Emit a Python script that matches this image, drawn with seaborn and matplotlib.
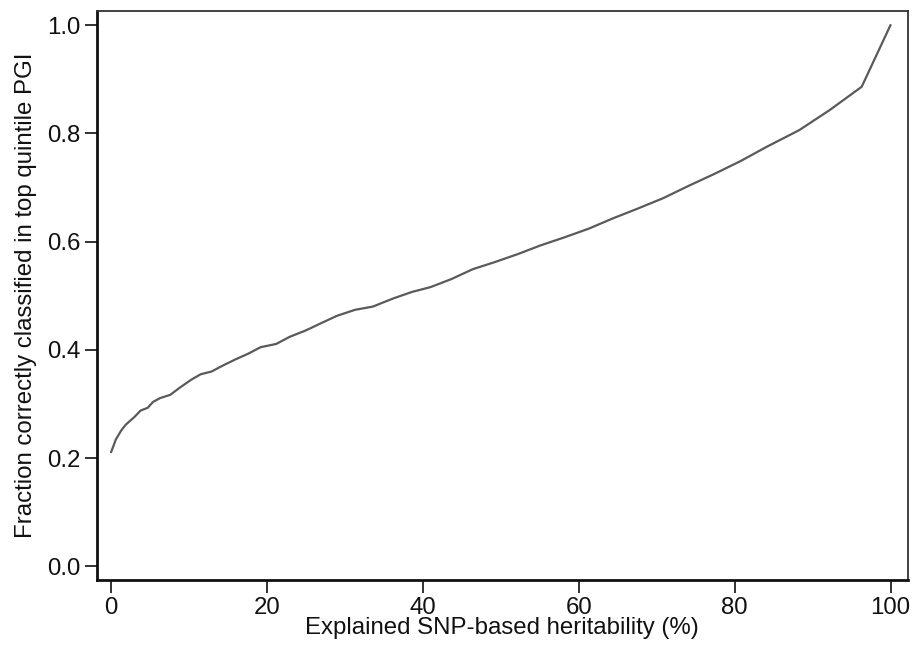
import matplotlib
matplotlib.use("Agg")
import matplotlib.pyplot as plt
import seaborn as sns
import pandas as pd

heritability = [0.0, 0.3, 0.6, 1.3, 1.9, 3.0, 3.8, 4.7, 5.4, 6.3, 7.6, 8.8, 10.3, 11.5,
                12.9, 14.2, 15.9, 17.6, 19.2, 21.2, 22.9, 25.0, 26.9, 29.0, 31.3, 33.6,
                36.2, 38.6, 41.0, 43.7, 46.4, 49.2, 52.2, 55.1, 58.2, 61.3, 64.4, 67.4,
                70.8, 74.1, 77.4, 80.8, 84.1, 88.3, 92.2, 96.3, 100.0]
fraction = [0.211, 0.222, 0.234, 0.251, 0.262, 0.276, 0.288, 0.293, 0.304, 0.311, 0.317,
            0.330, 0.345, 0.355, 0.360, 0.370, 0.382, 0.393, 0.405, 0.411, 0.424, 0.436,
            0.449, 0.463, 0.474, 0.480, 0.495, 0.507, 0.516, 0.531, 0.549, 0.562, 0.577,
            0.593, 0.608, 0.624, 0.643, 0.660, 0.680, 0.703, 0.725, 0.749, 0.775, 0.806,
            0.843, 0.886, 1.0]
x_ticks = [0, 20, 40, 60, 80, 100]
y_ticks = [0.0, 0.2, 0.4, 0.6, 0.8, 1.0]

df = pd.DataFrame({"h": heritability, "f": fraction})

sns.set_theme(style="white")
plt.rcParams['font.family'] = ['Liberation Sans', 'DejaVu Sans']

fig = plt.figure(figsize=(9.15, 6.45), dpi=100)
ax = fig.add_axes([0.106, 0.1008, 0.886, 0.8822])
sns.lineplot(data=df, x="h", y="f", ax=ax, color="#5a5a5a", linewidth=1.6)

fs = 17.3
ax.set_xlim(-1.8, 102.2)
ax.set_ylim(-0.025, 1.026)
ax.set_xticks(x_ticks)
ax.set_xticklabels([str(v) for v in x_ticks])
ax.set_yticks(y_ticks)
ax.set_yticklabels([f"{v:.1f}" for v in y_ticks])
ax.set_xlabel("Explained SNP-based heritability (%)", fontsize=fs, labelpad=-1, color="#111111")
ax.set_ylabel("Fraction correctly classified in top quintile PGI", fontsize=fs, labelpad=7, color="#111111")
ax.tick_params(axis="both", which="major", labelsize=fs, length=9, width=1.3,
               direction="out", color="#222222", labelcolor="#111111", pad=3,
               bottom=True, left=True)
for side in ["left", "bottom"]:
    ax.spines[side].set_linewidth(2.0)
    ax.spines[side].set_color("#111111")
for side in ["top", "right"]:
    ax.spines[side].set_linewidth(1.3)
    ax.spines[side].set_color("#333333")

fig.savefig("out.png", dpi=100)
